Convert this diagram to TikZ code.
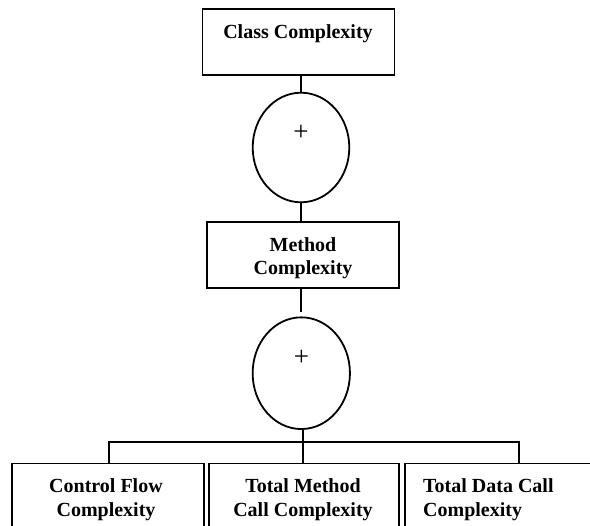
\documentclass[tikz,border=0pt]{standalone}
\usepackage{fontspec}
\setmainfont{Liberation Serif}
\usetikzlibrary{shapes.geometric}
\tikzset{
  line/.style={line width=1.8pt, black},
  boxnode/.style={draw, line width=1.8pt, rectangle, inner sep=0pt},
  ellnode/.style={draw, line width=1.8pt, ellipse, inner sep=0pt},
  lbl/.style={inner sep=0pt, font=\fontsize{20}{24}\selectfont\bfseries},
  plus/.style={inner sep=0pt, font=\fontsize{27}{30}\selectfont},
}
\begin{document}
\begin{tikzpicture}[x=1pt,y=-1pt]
\clip (0,0) rectangle (590,526);
% top box
\node[boxnode, minimum width=192pt, minimum height=66pt] (class) at (298.5,42) {};
\node[lbl, anchor=base] (classtxt) at (298,38.3) {Class Complexity};
% first sum
\node[ellnode, minimum width=96.6pt, minimum height=109.6pt] (sumA) at (301,147.5) {};
\node[plus] (plusA) at (301,132.5) {+};
% method box
\node[boxnode, minimum width=192.6pt, minimum height=66pt] (method) at (303,254.7) {};
\node[lbl, anchor=north, align=center, font=\fontsize{20}{23}\selectfont\bfseries] (methodtxt) at (303,234.9) {\strut Method\\Complexity};
% second sum
\node[ellnode, minimum width=97.3pt, minimum height=111.7pt] (sumB) at (301.3,373.2) {};
\node[plus] (plusB) at (301.5,358.3) {+};
% bottom boxes
\node[boxnode, minimum width=192pt, minimum height=90pt, anchor=north west] (cf) at (11,462.7) {};
\node[boxnode, minimum width=190.6pt, minimum height=90pt, anchor=north west] (tm) at (207.7,462.7) {};
\node[boxnode, minimum width=200pt, minimum height=90pt, anchor=north west] (td) at (404,462.7) {};
\node[lbl, anchor=north, align=center] (cftxt) at (106,475.2) {\strut Control Flow\\Complexity};
\node[lbl, anchor=north, align=center] (tmtxt) at (303,475.2) {\strut Total Method\\Call Complexity};
\node[lbl, anchor=north west, align=left] (tdtxt) at (423,475.2) {\strut Total Data Call\\Complexity};
% connectors
\coordinate (gapend) at (300.7,311.7);
\coordinate (busL) at (109,441.7);
\coordinate (busM) at (302.7,441.7);
\coordinate (busR) at (519.3,441.7);
\draw[line] (sumA.north |- class.south) -- (sumA.north);
\draw[line] (300.7,202.3) -- (300.7,221.7);
\draw[line] (300.7,287.7) -- (gapend);
\draw[line] (302.7,429) -- (busM);
\draw[line] (busL |- cf.north) -- (busL) -- (busR) -- (busR |- td.north);
\draw[line] (busM) -- (busM |- tm.north);
\end{tikzpicture}
\end{document}
